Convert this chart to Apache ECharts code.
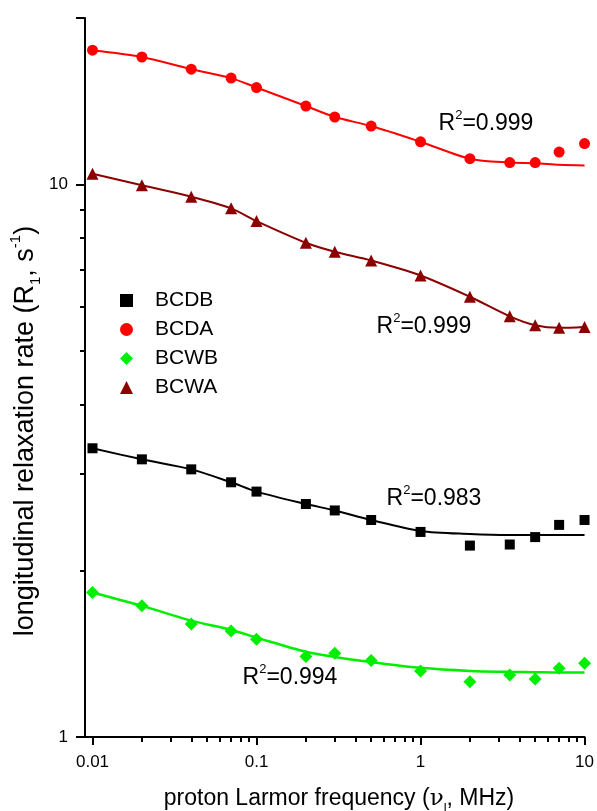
<!DOCTYPE html>
<html>
<head>
<meta charset="utf-8">
<script src="https://cdn.jsdelivr.net/npm/echarts@6/dist/echarts.min.js"></script>
<style>
html,body{margin:0;padding:0;background:#fff;}
#chart{width:597px;height:811px;}
</style>
</head>
<body>
<div id="chart"></div>
<script>
// ---- data ----
const freqs = [0.01, 0.02, 0.04, 0.07, 0.1, 0.2, 0.3, 0.5, 1, 2, 3.5, 5, 7, 10];
const BCDB = [3.33, 3.18, 3.05, 2.89, 2.78, 2.64, 2.57, 2.47, 2.35, 2.22, 2.23, 2.30, 2.42, 2.47];
const BCDA = [17.49, 17.0, 16.16, 15.57, 14.97, 13.86, 13.24, 12.75, 11.94, 11.13, 10.95, 10.95, 11.44, 11.85];
const BCWB = [1.826, 1.727, 1.602, 1.556, 1.503, 1.398, 1.418, 1.376, 1.317, 1.259, 1.295, 1.274, 1.332, 1.360];
const BCWA = [10.45, 9.96, 9.50, 9.05, 8.58, 7.84, 7.55, 7.28, 6.84, 6.26, 5.77, 5.56, 5.50, 5.52];

const fitBCDB = [3.33, 3.18, 3.05, 2.89, 2.78, 2.64, 2.57, 2.47, 2.36, 2.33, 2.32, 2.32, 2.32, 2.32];
const fitBCDA = [17.49, 17.0, 16.16, 15.57, 14.97, 13.86, 13.24, 12.75, 11.94, 11.13, 10.95, 10.92, 10.85, 10.82];
const fitBCWB = [1.826, 1.727, 1.624, 1.562, 1.513, 1.426, 1.396, 1.367, 1.334, 1.317, 1.312, 1.310, 1.308, 1.308];
const fitBCWA = [10.45, 9.96, 9.50, 9.05, 8.58, 7.84, 7.55, 7.28, 6.84, 6.26, 5.77, 5.56, 5.50, 5.52];

const r2Labels = ['0.999', '0.999', '0.983', '0.994']; // BCDA, BCWA, BCDB, BCWB

const xMajor = [0.01, 0.1, 1, 10];
const xTickLabels = ['0.01', '0.1', '1', '10'];
const xMinor = [0.02, 0.03, 0.04, 0.05, 0.06, 0.07, 0.08, 0.09,
                0.2, 0.3, 0.4, 0.5, 0.6, 0.7, 0.8, 0.9,
                2, 3, 4, 5, 6, 7, 8, 9];
const yMajor = [1, 10];
const yTickLabels = ['1', '10'];
const yMajorTicks = [1, 10, 20];
const yMinor = [2, 3, 4, 5, 6, 7, 8, 9];

const xMin = 0.009, xMax = 10, yMin = 1, yMax = 20;

// ---- chart ----
const FONT = '"Liberation Sans", Arial, sans-serif';
const pair = (xs, ys) => xs.map((x, i) => [x, ys[i]]);
function labelFor(v, majors, labels) {
  for (let i = 0; i < majors.length; i++) {
    if (Math.abs(Math.log10(v) - Math.log10(majors[i])) < 1e-6) return labels[i];
  }
  return '';
}

const chart = echarts.init(document.getElementById('chart'), null, {renderer: 'canvas'});

const axisCommon = {
  type: 'log', logBase: 10,
  splitLine: {show: false}, minorSplitLine: {show: false}
};

const option = {
  backgroundColor: '#fff',
  animation: false,
  grid: {left: 85, right: 7, top: 18, bottom: 74, containLabel: false},
  xAxis: [
    Object.assign({}, axisCommon, {
      min: xMin, max: xMax,
      axisLine: {show: true, lineStyle: {color: '#000', width: 2}},
      axisTick: {show: true, customValues: xMajor, length: 8, lineStyle: {color: '#000', width: 2}},
      axisLabel: {show: true, customValues: xMajor, margin: 17, fontSize: 17, color: '#000', fontFamily: FONT,
        formatter: v => labelFor(v, xMajor, xTickLabels)}
    }),
    Object.assign({}, axisCommon, {
      min: xMin, max: xMax, position: 'bottom',
      axisLine: {show: false},
      axisTick: {show: true, customValues: xMinor, length: 5, lineStyle: {color: '#000', width: 2}},
      axisLabel: {show: false}
    })
  ],
  yAxis: [
    Object.assign({}, axisCommon, {
      min: yMin, max: yMax,
      axisLine: {show: true, lineStyle: {color: '#000', width: 2}},
      axisTick: {show: true, customValues: yMajorTicks, length: 9, lineStyle: {color: '#000', width: 2}},
      axisLabel: {show: true, customValues: yMajor, margin: 17, fontSize: 17, color: '#000', fontFamily: FONT,
        formatter: v => labelFor(v, yMajor, yTickLabels)}
    }),
    Object.assign({}, axisCommon, {
      min: yMin, max: yMax, position: 'left',
      axisLine: {show: false},
      axisTick: {show: true, customValues: yMinor, length: 5, lineStyle: {color: '#000', width: 2}},
      axisLabel: {show: false}
    })
  ],
  legend: {
    orient: 'vertical', left: 115, top: 285,
    itemWidth: 13, itemHeight: 13, itemGap: 8,
    selectedMode: false,
    textStyle: {fontSize: 21, color: '#000', fontFamily: FONT, padding: [0, 0, 0, 17]},
    data: [
      {name: 'BCDB', icon: 'rect'},
      {name: 'BCDA', icon: 'circle'},
      {name: 'BCWB', icon: 'diamond'},
      {name: 'BCWA', icon: 'triangle'}
    ]
  },
  series: [
    {name: 'fitBCDB', type: 'line', data: pair(freqs, fitBCDB), smooth: 0.3, showSymbol: false, symbol: 'none',
      lineStyle: {color: '#000', width: 2}, z: 1, silent: true},
    {name: 'fitBCDA', type: 'line', data: pair(freqs, fitBCDA), smooth: 0.3, showSymbol: false, symbol: 'none',
      lineStyle: {color: '#ff0000', width: 2}, z: 1, silent: true},
    {name: 'fitBCWB', type: 'line', data: pair(freqs, fitBCWB), smooth: 0.3, showSymbol: false, symbol: 'none',
      lineStyle: {color: '#00ee00', width: 2.5}, z: 1, silent: true},
    {name: 'fitBCWA', type: 'line', data: pair(freqs, fitBCWA), smooth: 0.3, showSymbol: false, symbol: 'none',
      lineStyle: {color: '#8b0000', width: 2}, z: 1, silent: true},
    {name: 'BCDB', type: 'scatter', data: pair(freqs, BCDB), symbol: 'rect', symbolSize: 10,
      itemStyle: {color: '#000', opacity: 1}, z: 3},
    {name: 'BCDA', type: 'scatter', data: pair(freqs, BCDA), symbol: 'circle', symbolSize: 11,
      itemStyle: {color: '#ff0000', opacity: 1}, z: 3},
    {name: 'BCWB', type: 'scatter', data: pair(freqs, BCWB), symbol: 'diamond', symbolSize: 13,
      itemStyle: {color: '#00ee00', opacity: 1}, z: 3},
    {name: 'BCWA', type: 'scatter', data: pair(freqs, BCWA), symbol: 'triangle', symbolSize: 12,
      itemStyle: {color: '#8b0000', opacity: 1}, z: 3}
  ]
};
chart.setOption(option);

// ---- text annotations ----
const richR = {
  a: {fontSize: 23, fontFamily: FONT, color: '#000', lineHeight: 30},
  s: {fontSize: 13, fontFamily: FONT, color: '#000', lineHeight: 13, verticalAlign: 'top'}
};
function r2Text(x, y, val) {
  return {type: 'text', x: x, y: y, z: 10,
    style: {text: '{a|R}{s|2}{a|=' + val + '}', rich: richR, align: 'center', verticalAlign: 'middle'}};
}
function titleRich(size) {
  return {
    n: {fontSize: size, fontFamily: FONT, color: '#000', lineHeight: size + 8},
    g: {fontSize: size, fontFamily: '"DejaVu Serif", "Liberation Serif", serif', color: '#000', lineHeight: size + 8},
    sub: {fontSize: Math.round(size * 0.55), fontFamily: FONT, color: '#000', lineHeight: Math.round(size * 0.55), verticalAlign: 'bottom'},
    sup: {fontSize: Math.round(size * 0.55), fontFamily: FONT, color: '#000', lineHeight: Math.round(size * 0.55), verticalAlign: 'top'}
  };
}
chart.setOption({
  graphic: [
    r2Text(486, 124, r2Labels[0]),
    r2Text(424, 327, r2Labels[1]),
    r2Text(434, 499, r2Labels[2]),
    r2Text(290, 678, r2Labels[3]),
    {type: 'text', x: 339, y: 799, z: 10,
      style: {text: '{n|proton Larmor frequency (}{g|ν}{sub|l}{n|, MHz)}', rich: titleRich(23),
        align: 'center', verticalAlign: 'middle'}},
    {type: 'text', x: 26, y: 431, rotation: Math.PI / 2, z: 10,
      style: {text: '{n|longitudinal relaxation rate (R}{sub|1}{n|, s}{sup|-1}{n|)}', rich: titleRich(27),
        align: 'center', verticalAlign: 'middle'}}
  ]
});
</script>
</body>
</html>
